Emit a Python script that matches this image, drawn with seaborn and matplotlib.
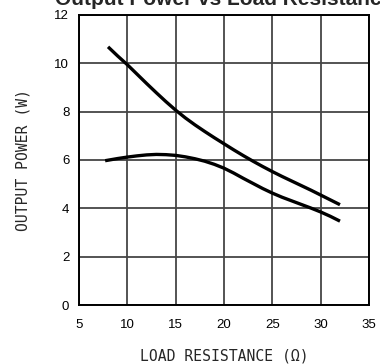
import numpy as np
import pandas as pd
import seaborn as sns
import matplotlib.pyplot as plt

# --- data ---
upper_r = [8, 9, 10, 11, 12, 13, 14, 15, 16, 17, 18, 19, 20, 21, 22, 23, 24, 25, 26, 27, 28, 29, 30, 31, 32]
upper_p = [10.68, 10.3, 9.94, 9.55, 9.16, 8.78, 8.41, 8.06, 7.74, 7.45, 7.18, 6.92, 6.67, 6.42, 6.18, 5.95, 5.73,
           5.52, 5.32, 5.13, 4.94, 4.75, 4.55, 4.35, 4.15]
lower_r = [7.7, 9, 10, 11, 12, 13, 14, 15, 16, 17, 18, 19, 20, 21, 22, 23, 24, 25, 26, 27, 28, 29, 30, 31, 32]
lower_p = [5.97, 6.06, 6.12, 6.17, 6.21, 6.23, 6.22, 6.19, 6.13, 6.05, 5.95, 5.82, 5.66, 5.46, 5.24, 5.03, 4.82,
           4.63, 4.46, 4.31, 4.16, 4.01, 3.85, 3.67, 3.47]

x_ticks = [5, 10, 15, 20, 25, 30, 35]
y_ticks = [0, 2, 4, 6, 8, 10, 12]

sns.set_style("white")
plt.rcParams['font.family'] = ['Liberation Sans', 'DejaVu Sans']

fig = plt.figure(figsize=(3.8, 3.64), dpi=100)
ax = fig.add_axes([0.208, 0.162, 0.763, 0.797])

df_up = pd.DataFrame({'r': upper_r, 'p': upper_p})
df_lo = pd.DataFrame({'r': lower_r, 'p': lower_p})
sns.lineplot(data=df_up, x='r', y='p', ax=ax, color='black', lw=2.4, solid_capstyle='butt',
             solid_joinstyle='round', zorder=3)
sns.lineplot(data=df_lo, x='r', y='p', ax=ax, color='black', lw=2.4, solid_capstyle='butt',
             solid_joinstyle='round', zorder=3)

ax.set_xlim(5, 35)
ax.set_ylim(0, 12)
ax.set_xticks(x_ticks)
ax.set_yticks(y_ticks)
ax.grid(True, color='#454545', lw=1.3)
for s in ax.spines.values():
    s.set_color('black')
    s.set_linewidth(1.4)
    s.set_visible(True)
ax.tick_params(length=0, labelsize=9.5, colors='black')
ax.tick_params(axis='x', pad=10)
ax.tick_params(axis='y', pad=7)

ax.set_xlabel('LOAD RESISTANCE (Ω)', family='DejaVu Sans Mono', fontsize=10.6, labelpad=13)
ax.set_ylabel('OUTPUT POWER (W)', family='DejaVu Sans Mono', fontsize=10.6, labelpad=17)
# title sits partly above the figure edge, as in the reference
ax.set_title('Output Power vs Load Resistance', fontsize=15, fontweight='bold', pad=7)

fig.savefig('out.png', dpi=100)
